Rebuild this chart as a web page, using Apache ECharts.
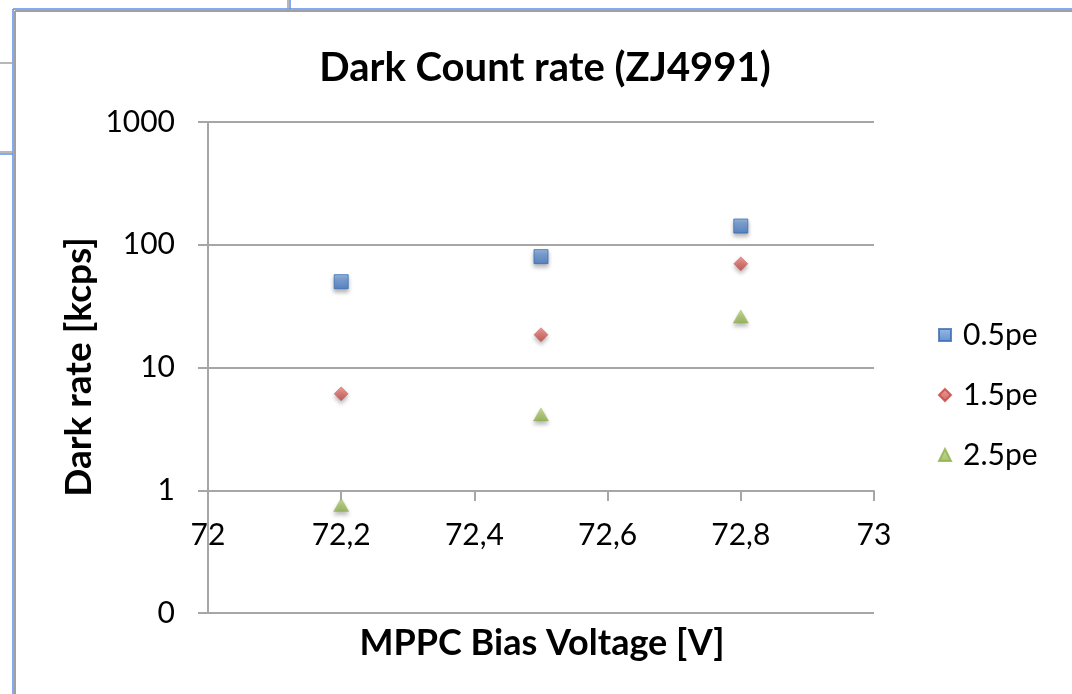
<!DOCTYPE html>
<html>
<head>
<meta charset="utf-8">
<script src="https://cdn.jsdelivr.net/npm/echarts@6/dist/echarts.min.js"></script>
<style>
html,body{margin:0;padding:0;background:#fff;}
#chart{width:1072px;height:694px;}
</style>
</head>
<body>
<div id="chart"></div>
<script>
var titleText = 'Dark Count rate (ZJ4991)';
var xName = 'MPPC Bias Voltage [V]';
var yName = 'Dark rate [kcps]';
var seriesNames = ['0.5pe', '1.5pe', '2.5pe'];
var voltages = [72.2, 72.5, 72.8];
var rate05 = [50, 80, 142];
var rate15 = [6.1, 18.5, 70];
var rate25 = [0.76, 4.15, 26];
var xMin = 72, xMax = 73, xStep = 0.2;
var yMin = 0.1, yMax = 1000;

var FONT = 'Lato';
function pairs(xs, ys){ return xs.map(function(x,i){ return [x, ys[i]]; }); }
function grad(top, bottom){
  return new echarts.graphic.LinearGradient(0,0,0,1,[{offset:0,color:top},{offset:1,color:bottom}]);
}
var chart = echarts.init(document.getElementById('chart'), null, {renderer:'canvas'});
var gridColor = '#a6a6a6';
var shadow = {shadowBlur:4, shadowColor:'rgba(0,0,0,0.35)', shadowOffsetY:3};
chart.setOption({
  animation:false,
  backgroundColor:'#ffffff',
  grid:{left:208, right:198, top:122, bottom:81, containLabel:false},
  xAxis:{
    type:'value', min:xMin, max:xMax, interval:xStep, position:'bottom', offset:-122,
    axisLine:{show:true, onZero:false, lineStyle:{color:gridColor, width:2}},
    axisTick:{show:true, inside:false, length:10, lineStyle:{color:gridColor, width:2}},
    splitLine:{show:false},
    axisLabel:{margin:29, color:'#000', fontFamily:FONT, fontSize:30,
      formatter:function(v){ return String(Math.round(v*10)/10).replace('.', ','); }}
  },
  yAxis:{
    type:'log', logBase:10, min:yMin, max:yMax,
    axisLine:{show:true, lineStyle:{color:gridColor, width:2}},
    axisTick:{show:true, inside:false, length:10, lineStyle:{color:gridColor, width:2}},
    splitLine:{show:true, lineStyle:{color:gridColor, width:2}},
    minorTick:{show:false},
    axisLabel:{margin:33, color:'#000', fontFamily:FONT, fontSize:30,
      formatter:function(v){ return v < 1 ? '0' : String(Math.round(v)); }}
  },
  legend:{
    orient:'vertical', left:933, top:313, itemWidth:12, itemHeight:12, itemGap:26,
    data:seriesNames,
    textStyle:{fontFamily:FONT, fontSize:30, color:'#000', lineHeight:34, padding:[0,0,0,7]}
  },
  series:[
    {name:seriesNames[0], type:'scatter', symbol:'rect', symbolSize:14, data:pairs(voltages, rate05),
     itemStyle:Object.assign({color:grad('#7fa9df','#3f74c0'), borderColor:'#3a6db5', borderWidth:1}, shadow)},
    {name:seriesNames[1], type:'scatter', symbol:'diamond', symbolSize:14, data:pairs(voltages, rate15),
     itemStyle:Object.assign({color:grad('#e88580','#c4443f'), borderColor:'#c4443f', borderWidth:0.5}, shadow)},
    {name:seriesNames[2], type:'scatter', symbol:'triangle', symbolSize:[15,13], data:pairs(voltages, rate25),
     itemStyle:Object.assign({color:grad('#b9d57a','#8fb04c'), borderColor:'#8fb04c', borderWidth:0.5}, shadow)}
  ],
  graphic:[
    {type:'line', shape:{x1:13, y1:9, x2:1072, y2:9}, style:{stroke:'#5b8ef0', lineWidth:1.5}, silent:true},
    {type:'line', shape:{x1:15, y1:11, x2:1072, y2:11}, style:{stroke:'#a0a0a0', lineWidth:2}, silent:true},
    {type:'line', shape:{x1:13, y1:9, x2:13, y2:694}, style:{stroke:'#5b8ef0', lineWidth:1.5}, silent:true},
    {type:'line', shape:{x1:15, y1:11, x2:15, y2:694}, style:{stroke:'#a0a0a0', lineWidth:2}, silent:true},
    {type:'line', shape:{x1:0, y1:63, x2:13, y2:63}, style:{stroke:'#a0a0a0', lineWidth:1.5}, silent:true},
    {type:'line', shape:{x1:0, y1:152, x2:13, y2:152}, style:{stroke:'#a0a0a0', lineWidth:1.5}, silent:true},
    {type:'line', shape:{x1:0, y1:154, x2:13, y2:154}, style:{stroke:'#5b8ef0', lineWidth:1.5}, silent:true},
    {type:'line', shape:{x1:290, y1:0, x2:290, y2:9}, style:{stroke:'#5b8ef0', lineWidth:1.5}, silent:true},
    {type:'line', shape:{x1:288, y1:0, x2:288, y2:10}, style:{stroke:'#a0a0a0', lineWidth:1.5}, silent:true},
    {type:'text', style:{text:titleText, x:545, y:68, textAlign:'center', textVerticalAlign:'middle', font:'bold 40px ' + FONT, fill:'#000'}},
    {type:'text', style:{text:xName, x:542, y:643, textAlign:'center', textVerticalAlign:'middle', font:'bold 36px ' + FONT, fill:'#000'}},
    {type:'text', x:79, y:367, rotation:Math.PI/2, style:{text:yName, x:0, y:0, textAlign:'center', textVerticalAlign:'middle', font:'bold 37px ' + FONT, fill:'#000'}}
  ]
});
</script>
</body>
</html>
